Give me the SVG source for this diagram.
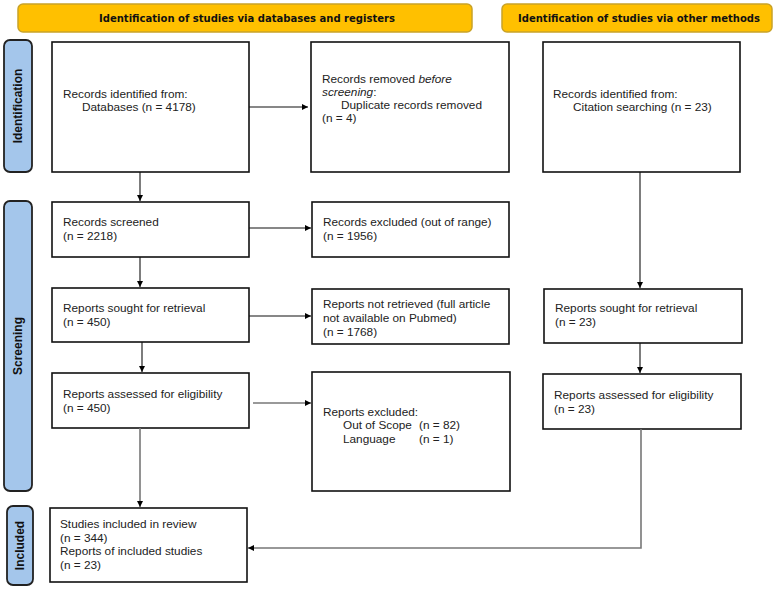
<svg xmlns="http://www.w3.org/2000/svg" width="775" height="590" viewBox="0 0 775 590">
<defs>
<marker id="ah" viewBox="0 0 10 10" refX="10" refY="5" markerWidth="7" markerHeight="6" markerUnits="userSpaceOnUse" orient="auto"><path d="M0,0 L10,5 L0,10 Z" fill="#000"/></marker>
</defs>
<style>
.hdr{fill:#FFC000;stroke:#C9A227;stroke-width:1.5}
.hdrt{font-family:"DejaVu Sans Condensed","Liberation Sans",sans-serif;font-weight:bold;font-size:11.2px;fill:#111}
.side{fill:#A4C6EB;stroke:#222;stroke-width:1.8}
.sidet{font-family:"Liberation Sans",Arial,sans-serif;font-weight:bold;font-size:12px;fill:#111}
.box{fill:#fff;stroke:#111;stroke-width:1.6}
.t{font-family:"Liberation Sans",Arial,sans-serif;font-size:11.8px;fill:#222}
.c{fill:none;stroke:#111;stroke-width:1.1}
.g{fill:none;stroke:#777;stroke-width:1.6}
</style>
<g id="header-db"><rect class="hdr" x="18" y="4" width="454" height="28" rx="5"/><text class="hdrt" x="99" y="22" textLength="296" lengthAdjust="spacingAndGlyphs">Identification of studies via databases and registers</text></g>
<g id="header-other"><rect class="hdr" x="502" y="4" width="270" height="28" rx="5"/><text class="hdrt" x="518" y="22" textLength="242" lengthAdjust="spacingAndGlyphs">Identification of studies via other methods</text></g>
<g id="side-identification"><rect class="side" x="4" y="40" width="28" height="132" rx="6"/><text class="sidet" transform="translate(22,106) rotate(-90)" text-anchor="middle">Identification</text></g>
<g id="side-screening"><rect class="side" x="4" y="201" width="28" height="290" rx="6"/><text class="sidet" transform="translate(22,346) rotate(-90)" text-anchor="middle">Screening</text></g>
<g id="side-included"><rect class="side" x="7" y="506" width="26" height="79" rx="6"/><text class="sidet" transform="translate(24,545.5) rotate(-90)" text-anchor="middle">Included</text></g>
<g id="n-identified"><rect class="box" x="52" y="42" width="197" height="130"/><text class="t" x="63" y="98">Records identified from:</text><text class="t" x="82" y="111">Databases (n = 4178)</text></g>
<g id="n-removed"><rect class="box" x="311" y="42" width="198" height="130"/><text class="t" x="322" y="83">Records removed <tspan font-style="italic">before</tspan></text><text class="t" x="322" y="96" font-style="italic">screening<tspan font-style="normal">:</tspan></text><text class="t" x="341" y="109">Duplicate records removed</text><text class="t" x="322" y="122">(n = 4)</text></g>
<g id="n-citation"><rect class="box" x="543" y="42" width="197" height="130"/><text class="t" x="553" y="98">Records identified from:</text><text class="t" x="573" y="111">Citation searching (n = 23)</text></g>
<g id="n-screened"><rect class="box" x="52" y="202" width="197" height="55"/><text class="t" x="63" y="226">Records screened</text><text class="t" x="63" y="240">(n = 2218)</text></g>
<g id="n-excluded-range"><rect class="box" x="312" y="202" width="197" height="55"/><text class="t" x="323" y="226">Records excluded (out of range)</text><text class="t" x="323" y="240">(n = 1956)</text></g>
<g id="n-sought"><rect class="box" x="52" y="288" width="197" height="54"/><text class="t" x="63" y="312">Reports sought for retrieval</text><text class="t" x="63" y="326">(n = 450)</text></g>
<g id="n-notretrieved"><rect class="box" x="312" y="289" width="197" height="55"/><text class="t" x="323" y="308">Reports not retrieved (full article</text><text class="t" x="323" y="322">not available on Pubmed)</text><text class="t" x="323" y="336">(n = 1768)</text></g>
<g id="n-sought-other"><rect class="box" x="544" y="289" width="198" height="54"/><text class="t" x="555" y="312">Reports sought for retrieval</text><text class="t" x="555" y="326">(n = 23)</text></g>
<g id="n-assessed"><rect class="box" x="52" y="373" width="197" height="55"/><text class="t" x="63" y="398">Reports assessed for eligibility</text><text class="t" x="63" y="412">(n = 450)</text></g>
<g id="n-excluded"><rect class="box" x="312" y="372" width="198" height="119"/><text class="t" x="323" y="416">Reports excluded:</text><text class="t" x="343" y="429">Out of Scope</text><text class="t" x="419" y="429">(n = 82)</text><text class="t" x="343" y="443">Language</text><text class="t" x="419" y="443">(n = 1)</text></g>
<g id="n-assessed-other"><rect class="box" x="543" y="374" width="198" height="55"/><text class="t" x="554" y="399">Reports assessed for eligibility</text><text class="t" x="554" y="413">(n = 23)</text></g>
<g id="n-included"><rect class="box" x="50" y="508" width="197" height="74"/><text class="t" x="60" y="528">Studies included in review</text><text class="t" x="60" y="542">(n = 344)</text><text class="t" x="60" y="555">Reports of included studies</text><text class="t" x="60" y="569">(n = 23)</text></g>
<g id="connectors">
<line class="c" x1="249" y1="107" x2="308" y2="107" marker-end="url(#ah)"/>
<line class="c" x1="140" y1="172" x2="140" y2="201" marker-end="url(#ah)"/>
<line class="c" x1="249" y1="228" x2="311" y2="228" marker-end="url(#ah)"/>
<line class="c" x1="140" y1="257" x2="140" y2="287" marker-end="url(#ah)"/>
<line class="c" x1="249" y1="316" x2="311" y2="316" marker-end="url(#ah)"/>
<line class="c" x1="142" y1="342" x2="142" y2="372" marker-end="url(#ah)"/>
<line class="c" x1="640" y1="172" x2="640" y2="288" marker-end="url(#ah)"/>
<line class="c" x1="640" y1="343" x2="640" y2="373" marker-end="url(#ah)"/>
<line class="g" x1="253" y1="403" x2="311" y2="403" marker-end="url(#ah)"/>
<line class="g" x1="140" y1="428" x2="140" y2="507" marker-end="url(#ah)"/>
<polyline class="g" points="641,429 641,548 248,548" marker-end="url(#ah)"/>
</g>
</svg>
